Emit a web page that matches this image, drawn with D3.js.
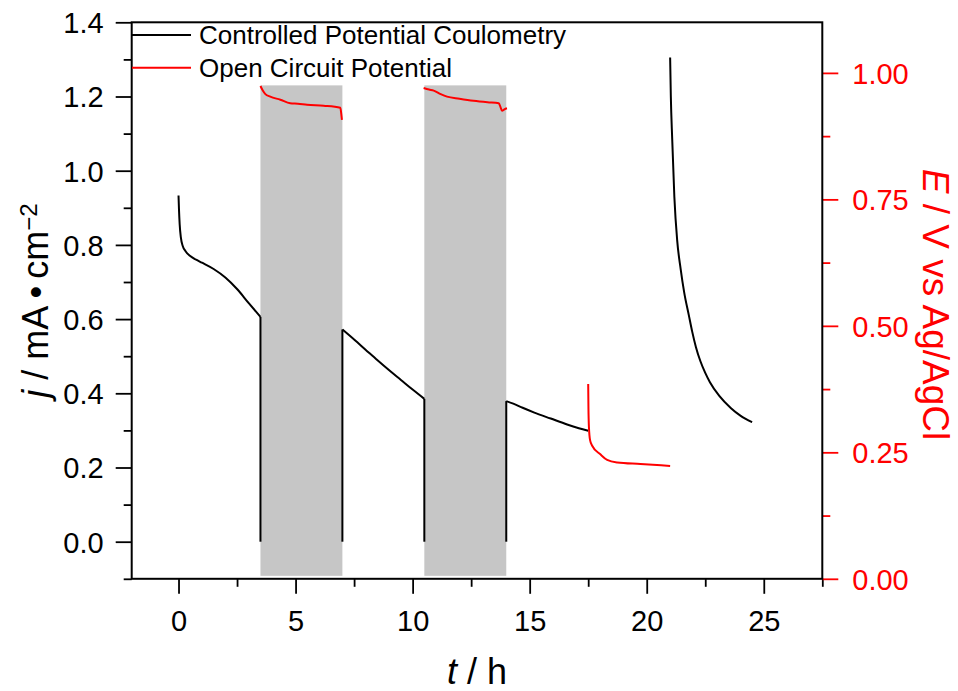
<!DOCTYPE html>
<html>
<head>
<meta charset="utf-8">
<script src="https://cdn.jsdelivr.net/npm/d3@7"></script>
<style>
  html, body { margin: 0; padding: 0; background: #fff; }
  svg text { font-family: "Liberation Sans", Arial, sans-serif; }
</style>
</head>
<body>
<svg id="chart" width="958" height="691"></svg>
<script>
// ---------- data ----------
// Controlled Potential Coulometry: [t (h), j (mA cm^-2)]
const cpc1 = [[0,0.933],[0.02,0.895],[0.05,0.855],[0.1,0.82],[0.18,0.797],[0.3,0.783],[0.5,0.770],[0.75,0.760],[1.0,0.752],[1.5,0.735],[2.0,0.712],[2.5,0.681],[3.0,0.643],[3.5,0.606]];
const cpc2 = [[7.0,0.572],[7.5,0.545],[8,0.517],[8.5,0.489],[9,0.462],[9.5,0.436],[10,0.410],[10.5,0.385]];
const cpc3 = [[14.0,0.379],[14.3,0.372],[14.7,0.361],[15.2,0.348],[15.9,0.332],[16.6,0.316],[17.1,0.306],[17.5,0.299]];
const cpc4 = [[21.0,1.305],[21.03,1.2],[21.09,1.083],[21.18,0.93],[21.3,0.813],[21.45,0.735],[21.6,0.672],[21.8,0.610],[21.94,0.567],[22.1,0.525],[22.29,0.487],[22.5,0.455],[22.7,0.430],[23.1,0.393],[23.6,0.360],[24.0,0.340],[24.5,0.322]];
// times at which the current was switched off/on (vertical drop to j = 0)
const switchTimes = [3.5, 7, 10.5, 14];
// Open Circuit Potential: [t (h), E (V vs Ag/AgCl)]
const ocp1 = [[3.5,0.974],[3.6,0.965],[3.71,0.958],[3.92,0.953],[4.35,0.947],[4.77,0.940],[5.1,0.939],[5.49,0.937],[6.2,0.935],[6.91,0.931],[6.95,0.92],[6.98,0.907]];
const ocp2 = [[10.47,0.970],[10.7,0.967],[10.9,0.965],[11.2,0.958],[11.47,0.953],[12.0,0.949],[12.6,0.945],[13.2,0.942],[13.68,0.940],[13.75,0.933],[13.82,0.925],[13.92,0.928],[14.03,0.930]];
const ocp3 = [[17.5,0.385],[17.51,0.34],[17.53,0.301],[17.58,0.274],[17.67,0.263],[18.02,0.246],[18.31,0.235],[18.74,0.230],[19.73,0.227],[21.0,0.223]];
// OCP windows (shaded): [start t, end t]
const ocpWindows = [[3.5,7],[10.5,14]];
const bandJ = [-0.092, 1.23];

const xTicks = [0,5,10,15,20,25];
const xMinor = [2.5,7.5,12.5,17.5,22.5,27.5];
const jTicks = [0.0,0.2,0.4,0.6,0.8,1.0,1.2,1.4];
const jMinor = [-0.1,0.1,0.3,0.5,0.7,0.9,1.1,1.3];
const eTicks = [0,0.25,0.5,0.75,1.0];
const eMinor = [0.125,0.375,0.625,0.875];

const legendLabels = ["Controlled Potential Coulometry","Open Circuit Potential"];

// ---------- layout ----------
const L = 131.7, R = 822.3, T = 22.3, B = 578.8;
const svg = d3.select("#chart");
const x = d3.scaleLinear().domain([-2, 27.5]).range([L, R]);
const yJ = d3.scaleLinear().domain([-0.1, 1.4]).range([B, T]);
const yE = d3.scaleLinear().domain([0, 1.1]).range([B, T]);
const RED = "#ff0000";

// shaded bands
svg.append("g").selectAll("rect").data(ocpWindows).join("rect")
  .attr("x", d => x(d[0])).attr("width", d => x(d[1]) - x(d[0]))
  .attr("y", yJ(bandJ[1])).attr("height", yJ(bandJ[0]) - yJ(bandJ[1]))
  .attr("fill", "#c6c6c6");

const lineJ = d3.line().x(d => x(d[0])).y(d => yJ(d[1])).curve(d3.curveMonotoneX);
const lineE = d3.line().x(d => x(d[0])).y(d => yE(d[1])).curve(d3.curveMonotoneX);

const cpcSegs = [cpc1,cpc2,cpc3,cpc4];
svg.append("g").selectAll("path").data(cpcSegs).join("path")
  .attr("d", lineJ).attr("fill","none").attr("stroke","#000").attr("stroke-width",2)
  .attr("stroke-linejoin","round");
// vertical connections to j = 0 at switching times
const allCpc = cpcSegs.flat();
function jAt(t) { // value of the curve endpoint at that time
  let best = allCpc[0];
  allCpc.forEach(p => { if (Math.abs(p[0]-t) < Math.abs(best[0]-t)) best = p; });
  return best[1];
}
svg.append("g").selectAll("line").data(switchTimes).join("line")
  .attr("x1", d => x(d)).attr("x2", d => x(d))
  .attr("y1", d => yJ(jAt(d))).attr("y2", yJ(0))
  .attr("stroke","#000").attr("stroke-width",2);

svg.append("g").selectAll("path").data([ocp1,ocp2,ocp3]).join("path")
  .attr("d", lineE).attr("fill","none").attr("stroke",RED).attr("stroke-width",2)
  .attr("stroke-linejoin","round");

// ---------- axes ----------
const fs = 29;
function styleAxis(g, color) {
  g.select(".domain").remove();
  g.selectAll("line").attr("stroke", color).attr("stroke-width", 1.8);
  g.selectAll("text").attr("fill", color).style("font-size", fs + "px");
}
// bottom
const gx = svg.append("g").attr("transform", `translate(0,${B})`)
  .call(d3.axisBottom(x).tickValues(xTicks).tickFormat(d3.format("d")).tickSize(15).tickPadding(10));
styleAxis(gx, "#000");
gx.selectAll("text").attr("dy", null).attr("y", 52);
svg.append("g").attr("transform", `translate(0,${B})`)
  .call(d3.axisBottom(x).tickValues(xMinor).tickFormat("").tickSize(8)).call(g => styleAxis(g, "#000"));
// left
const gy = svg.append("g").attr("transform", `translate(${L},0)`)
  .call(d3.axisLeft(yJ).tickValues(jTicks).tickFormat(d3.format(".1f")).tickSize(16).tickPadding(12));
styleAxis(gy, "#000");
gy.selectAll("text").attr("dy", "0.36em");
svg.append("g").attr("transform", `translate(${L},0)`)
  .call(d3.axisLeft(yJ).tickValues(jMinor).tickFormat("").tickSize(8)).call(g => styleAxis(g, "#000"));
// right
const ge = svg.append("g").attr("transform", `translate(${R},0)`)
  .call(d3.axisRight(yE).tickValues(eTicks).tickFormat(d3.format(".2f")).tickSize(16).tickPadding(14));
styleAxis(ge, RED);
ge.selectAll("text").attr("dy", "0.36em");
svg.append("g").attr("transform", `translate(${R},0)`)
  .call(d3.axisRight(yE).tickValues(eMinor).tickFormat("").tickSize(8)).call(g => styleAxis(g, RED));

// frame
svg.append("rect").attr("x", L).attr("y", T).attr("width", R - L).attr("height", B - T)
  .attr("fill","none").attr("stroke","#000").attr("stroke-width",2);

// ---------- titles ----------
const tfs = 36;
const xt = svg.append("text").attr("x", (L+R)/2).attr("y", 684).attr("text-anchor","middle")
  .style("font-size", tfs+"px").attr("fill","#000");
xt.append("tspan").style("font-style","italic").text("t");
xt.append("tspan").text(" / h");

const yt = svg.append("text").attr("transform", `translate(48,${(T+B)/2}) rotate(-90)`)
  .attr("text-anchor","middle").style("font-size", tfs+"px").attr("fill","#000");
yt.append("tspan").style("font-style","italic").text("j");
yt.append("tspan").text(" / mA\u2009\u2022\u2009cm");
yt.append("tspan").attr("dy","-0.45em").style("font-size","24px").text("\u22122");

const et = svg.append("text").attr("transform", `translate(923,${(T+B)/2 + 4}) rotate(90)`)
  .attr("text-anchor","middle").style("font-size", "37px").attr("fill",RED);
et.append("tspan").style("font-style","italic").text("E");
et.append("tspan").text(" / V vs Ag/AgCl");

// ---------- legend ----------
const legColors = ["#000", RED];
const legY = [35, 67.7];
const lg = svg.append("g").selectAll("g").data(legendLabels).join("g");
lg.append("line").attr("x1",132).attr("x2",191)
  .attr("y1",(d,i)=>legY[i]).attr("y2",(d,i)=>legY[i])
  .attr("stroke",(d,i)=>legColors[i]).attr("stroke-width",2);
lg.append("text").attr("x",199).attr("y",(d,i)=>legY[i]+9.3)
  .style("font-size","26px").attr("fill","#000").text(d=>d);
</script>
</body>
</html>
